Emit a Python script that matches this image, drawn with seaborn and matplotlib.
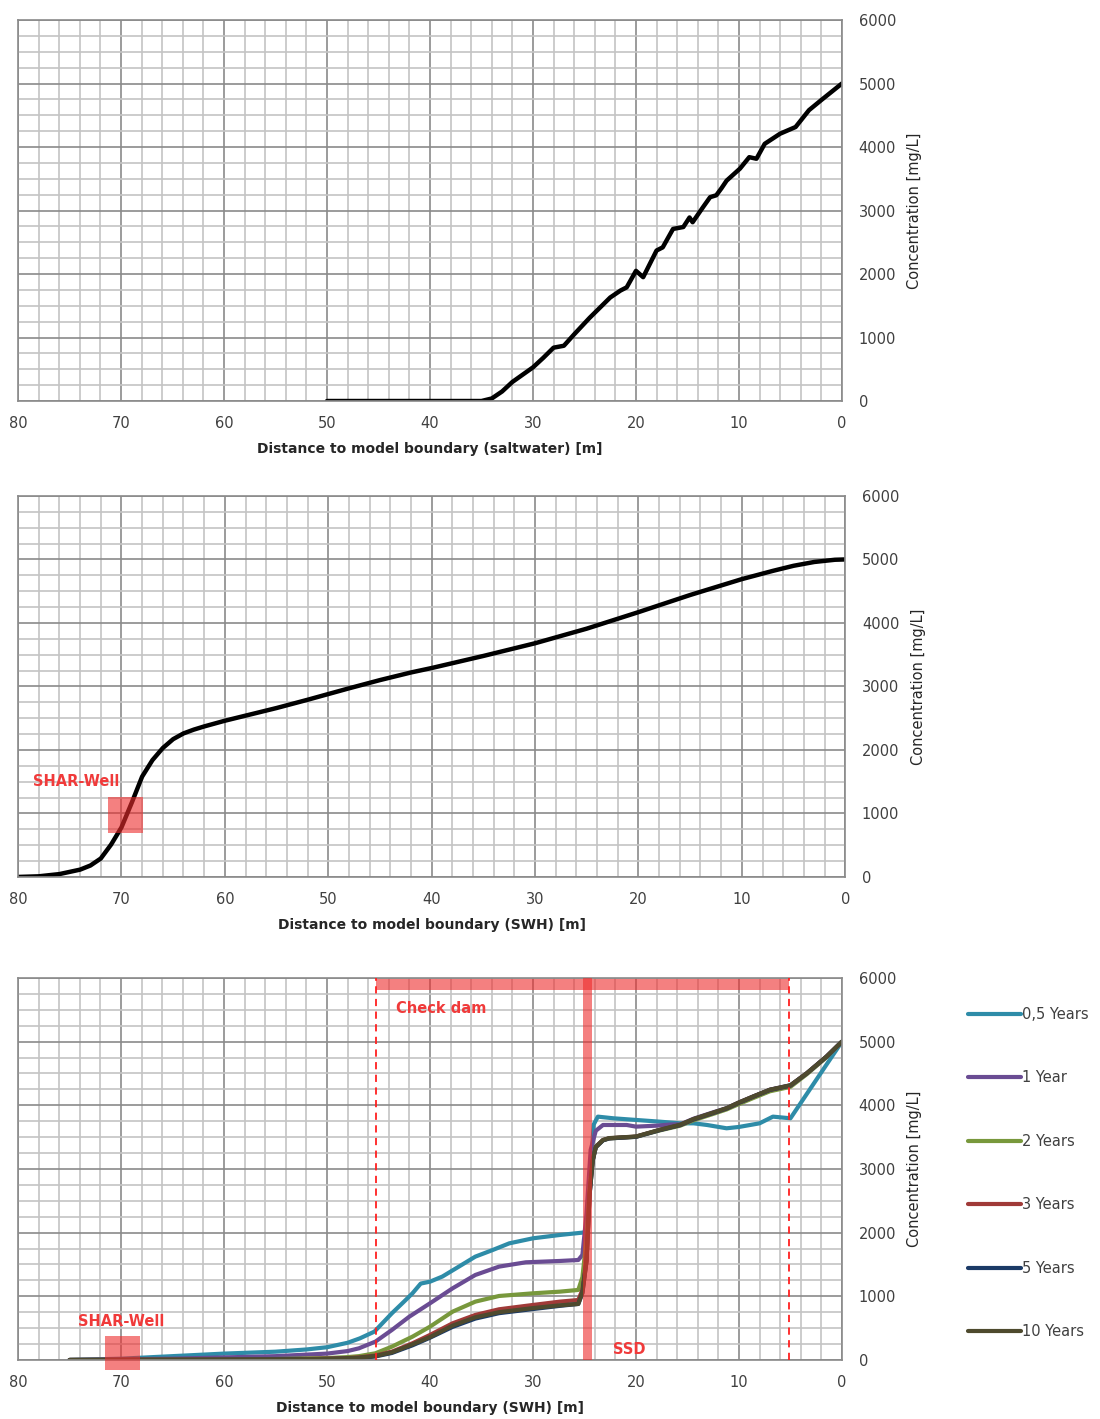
import pandas as pd
import matplotlib
matplotlib.use("Agg")
import matplotlib.pyplot as plt
from matplotlib.patches import Rectangle
from matplotlib.ticker import MultipleLocator
import seaborn as sns

# panel 1: saltwater boundary
sw_dist = [50, 45, 40, 36, 35, 34, 33, 32, 30, 29, 28, 27, 26, 24.5, 23, 22.5, 21.5, 20.9, 20, 19.3,
           18, 17.4, 16.4, 15.4, 14.8, 14.5, 13.5, 12.8, 12.2, 11.7, 11.2, 9.9, 9, 8.3, 7.5, 6, 4.5,
           3.2, 2, 1, 0]
sw_conc = [0, 0, 0, 0, 0, 40, 150, 300, 530, 680, 840, 870, 1050, 1310, 1550, 1630, 1740, 1790, 2050, 1950,
           2370, 2420, 2710, 2740, 2890, 2815, 3050, 3210, 3240, 3350, 3470, 3660, 3840, 3815, 4050, 4210, 4315,
           4580, 4740, 4870, 5000]

# panel 2: SWH boundary
swh_dist = [80, 78, 76, 74, 73, 72, 71, 70, 69, 68, 67, 66, 65, 64, 63, 62, 60, 58, 55, 52, 50, 48, 45,
            42, 40, 35, 30, 25, 20, 15, 10, 7, 5, 3, 1, 0]
swh_conc = [0, 10, 45, 115, 180, 290, 510, 780, 1170, 1580, 1840, 2030, 2170, 2260, 2320, 2370, 2460, 2540,
            2660, 2790, 2880, 2970, 3100, 3220, 3290, 3480, 3680, 3910, 4170, 4440, 4690, 4820, 4900, 4960,
            4995, 5000]

# panel 3: SWH boundary with check dam, by time
t05_dist = [75, 70, 65, 60, 55, 52, 50, 48, 46.8, 45.4, 43.7, 42.5, 41.7, 40.9, 40, 38.8, 37.2, 35.6,
            33.9, 32.3, 30, 27.4, 25.2, 24.8, 24.4, 24.1, 23.7, 22.2, 20, 17.7, 15.7, 14.4, 13.1, 11.2,
            10, 8, 6.7, 5, 0]
t05_conc = [0, 20, 60, 100, 130, 165, 200, 270, 340, 445, 733, 920, 1047, 1200, 1230, 1310, 1466, 1623,
            1728, 1832, 1911, 1963, 2000, 2015, 3000, 3700, 3822, 3796, 3770, 3743, 3717, 3717, 3691, 3639,
            3660, 3717, 3822, 3796, 5000]

t1_dist = [75, 65, 55, 50, 48, 46.9, 45.3, 43.7, 42, 40, 37.8, 35.6, 33.3, 30.7, 27.4, 25.6, 25.2, 24.8,
           24.4, 23.9, 23.2, 20.9, 20, 18, 16.5, 15.7, 14.4, 12.5, 11.2, 10, 8.6, 7, 5, 3.4, 1.5, 0]
t1_conc = [0, 20, 60, 100, 140, 183, 288, 471, 681, 890, 1126, 1335, 1466, 1534, 1555, 1570, 1650, 2300,
           3300, 3600, 3691, 3691, 3665, 3680, 3700, 3700, 3790, 3890, 3955, 4045, 4140, 4245, 4315, 4505,
           4765, 5000]

t2_dist = [75, 65, 55, 50, 48, 46.9, 45.3, 43.7, 41.7, 40, 37.8, 35.6, 33.3, 30, 27.4, 25.6, 25.2, 24.8,
           24.5, 24.2, 23.9, 23.2, 22.6, 20, 17.7, 15.7, 14.4, 12.5, 11.2, 10, 8.6, 7, 5, 3.4, 1.5, 0]
t2_conc = [0, 5, 15, 30, 45, 60, 105, 209, 366, 523, 759, 916, 1005, 1047, 1073, 1100, 1300, 1900,
           2700, 3150, 3350, 3450, 3480, 3505, 3605, 3680, 3765, 3865, 3935, 4020, 4115, 4220, 4290, 4490,
           4755, 5000]

t3_dist = [75, 65, 55, 50, 48, 46.9, 45.3, 43.7, 41.7, 40, 37.8, 35.6, 33.3, 30, 27.4, 25.6, 25.2, 24.8,
           24.5, 24.2, 23.9, 23.2, 22.6, 20, 17.7, 15.7, 14.4, 12.5, 11.2, 10, 8.6, 7, 5, 3.4, 1.5, 0]
t3_conc = [0, 5, 10, 20, 30, 40, 70, 130, 262, 393, 576, 707, 796, 864, 916, 942, 1100, 1570,
           2618, 3141, 3350, 3455, 3482, 3508, 3613, 3690, 3780, 3880, 3950, 4040, 4136, 4241, 4310, 4503,
           4764, 5000]

t5_dist = [75, 65, 55, 50, 48, 46.9, 45.3, 43.7, 41.7, 40, 37.8, 35.6, 33.3, 30, 27.4, 25.6, 25.2, 24.8,
           24.5, 24.2, 23.9, 23.2, 22.6, 20, 17.7, 15.7, 14.4, 12.5, 11.2, 10, 8.6, 7, 5, 3.4, 1.5, 0]
t5_conc = [0, 3, 8, 15, 22, 30, 55, 110, 230, 350, 520, 650, 735, 800, 850, 880, 1050, 1550,
           2600, 3130, 3340, 3450, 3480, 3505, 3610, 3690, 3780, 3880, 3950, 4040, 4136, 4241, 4310, 4503,
           4764, 5000]

t10_dist = [75, 65, 55, 50, 48, 46.9, 45.3, 43.7, 41.7, 40, 37.8, 35.6, 33.3, 30, 27.4, 25.6, 25.2, 24.8,
            24.5, 24.2, 23.9, 23.2, 22.6, 20, 17.7, 15.7, 14.4, 12.5, 11.2, 10, 8.6, 7, 5, 3.4, 1.5, 0]
t10_conc = [0, 4, 9, 18, 26, 35, 62, 120, 245, 360, 540, 670, 750, 815, 858, 880, 1060, 1560,
            2610, 3135, 3345, 3455, 3485, 3510, 3615, 3695, 3785, 3885, 3955, 4045, 4140, 4245, 4315, 4505,
            4765, 5000]

time_labels = ["0,5 Years", "1 Year", "2 Years", "3 Years", "5 Years", "10 Years"]
time_colors = ["#2E8CA8", "#6A4C93", "#78983C", "#A03A38", "#1B3A66", "#4E4A2E"]

rows = []
for lab, d, c in zip(time_labels,
                     [t05_dist, t1_dist, t2_dist, t3_dist, t5_dist, t10_dist],
                     [t05_conc, t1_conc, t2_conc, t3_conc, t5_conc, t10_conc]):
    for xi, yi in zip(d, c):
        rows.append({"dist": xi, "conc": yi, "time": lab})
df_time = pd.DataFrame(rows)
df_sw = pd.DataFrame({"dist": sw_dist, "conc": sw_conc})
df_swh = pd.DataFrame({"dist": swh_dist, "conc": swh_conc})

sns.set_theme(style="white")
plt.rcParams['font.family'] = ['DejaVu Sans']

RED = "#EE2C2C"
TXT_RED = "#F03A3A"
fig = plt.figure(figsize=(11, 14.19), dpi=100)


def style_axes(ax, xlabel):
    ax.set_xlim(80, 0)
    ax.set_ylim(0, 6000)
    ax.xaxis.set_major_locator(MultipleLocator(10))
    ax.xaxis.set_minor_locator(MultipleLocator(2))
    ax.yaxis.set_major_locator(MultipleLocator(1000))
    ax.yaxis.set_minor_locator(MultipleLocator(250))
    ax.grid(which='minor', color='#c4c4c4', lw=1.2, zorder=0)
    ax.grid(which='major', color='#8a8a8a', lw=1.2, zorder=0)
    ax.set_axisbelow(True)
    ax.yaxis.tick_right()
    ax.yaxis.set_label_position('right')
    ax.tick_params(which='both', length=0, labelsize=10.5, colors='#404040')
    ax.tick_params(axis='x', pad=11)
    ax.tick_params(axis='y', pad=12)
    for s in ax.spines.values():
        s.set_color('#8a8a8a')
        s.set_linewidth(1.2)
    ax.set_xlabel(xlabel, fontsize=10, fontweight='bold', color='#262626', labelpad=8)
    ax.set_ylabel("Concentration [mg/L]", fontsize=10.5, color='#262626', labelpad=8)


# panel 1
ax1 = fig.add_axes([0.0164, 0.7174, 0.749, 0.2685])
sns.lineplot(data=df_sw, x="dist", y="conc", color="black", lw=3.2, ax=ax1)
style_axes(ax1, "Distance to model boundary (saltwater) [m]")

# panel 2
ax2 = fig.add_axes([0.0164, 0.382, 0.752, 0.2685])
sns.lineplot(data=df_swh, x="dist", y="conc", color="black", lw=3.2, ax=ax2)
style_axes(ax2, "Distance to model boundary (SWH) [m]")
ax2.add_patch(Rectangle((67.9, 693), 3.4, 567, color=RED, alpha=0.6, lw=0, zorder=3))
ax2.text(74.4, 1496, "SHAR-Well", color=TXT_RED, fontsize=10.5, fontweight='bold',
         ha='center', va='center')

# panel 3
ax3 = fig.add_axes([0.0164, 0.0416, 0.749, 0.2692])
sns.lineplot(data=df_time, x="dist", y="conc", hue="time", hue_order=time_labels,
             palette=time_colors, lw=3.0, sort=False, estimator=None, ax=ax3)
style_axes(ax3, "Distance to model boundary (SWH) [m]")
ax3.add_patch(Rectangle((5.1, 5810), 40.1, 170, color=RED, alpha=0.6, lw=0, zorder=3))
ax3.add_patch(Rectangle((24.3, 0), 0.8, 6000, color=RED, alpha=0.6, lw=0, zorder=3))
ax3.add_patch(Rectangle((68.2, -150), 3.4, 530, color=RED, alpha=0.6, lw=0, zorder=3,
                        clip_on=False))
for xd in [45.2, 5.1]:
    ax3.axvline(xd, color="#FF2020", ls=(0, (4, 3)), lw=1.3, zorder=3)
ax3.text(43.3, 5513, "Check dam", color=TXT_RED, fontsize=10.5, fontweight='bold',
         ha='left', va='center')
ax3.text(22.2, 157, "SSD", color=TXT_RED, fontsize=10.5, fontweight='bold',
         ha='left', va='center')
ax3.text(70, 600, "SHAR-Well", color=TXT_RED, fontsize=10.5, fontweight='bold',
         ha='center', va='center')

handles, labels = ax3.get_legend_handles_labels()
for h in handles:
    h.set_linewidth(3.0)
ax3.legend(handles, labels, loc='upper left', bbox_to_anchor=(968 / 1100, 1 - 1007 / 1419),
           bbox_transform=fig.transFigure, frameon=False, fontsize=10.5, handlelength=3.6,
           handletextpad=0.1, labelspacing=3.32, borderaxespad=0, borderpad=0,
           labelcolor='#404040')

fig.savefig("out.png", dpi=100)
